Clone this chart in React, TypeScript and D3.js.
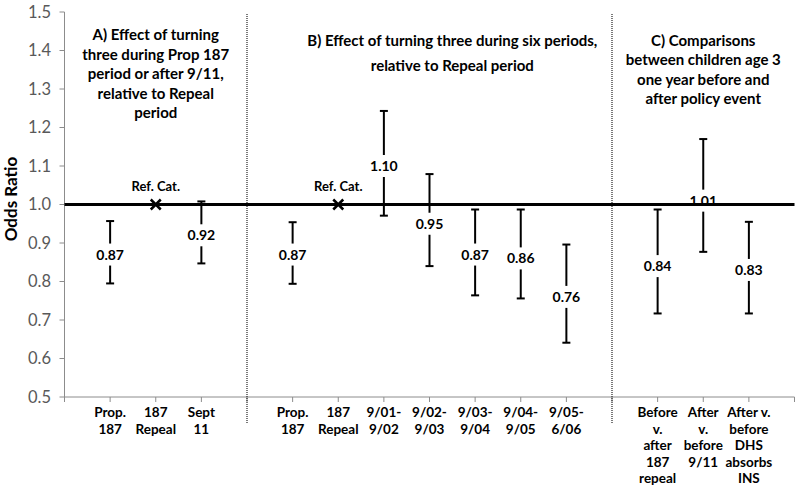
import React from "react";
import * as d3 from "d3";

const categories = [
  "Prop. 187", "187 Repeal", "Sept 11",
  "Prop. 187", "187 Repeal", "9/01-9/02", "9/02-9/03", "9/03-9/04", "9/04-9/05", "9/05-6/06",
  "Before v. after 187 repeal", "After v. before 9/11", "After v. before DHS absorbs INS",
];
const categoryLines = [
  ["Prop.", "187"], ["187", "Repeal"], ["Sept", "11"],
  ["Prop.", "187"], ["187", "Repeal"], ["9/01-", "9/02"], ["9/02-", "9/03"], ["9/03-", "9/04"], ["9/04-", "9/05"], ["9/05-", "6/06"],
  ["Before", "v.", "after", "187", "repeal"], ["After", "v.", "before", "9/11"], ["After v.", "before", "DHS", "absorbs", "INS"],
];
const slotIndex = [1, 2, 3, 5, 6, 7, 8, 9, 10, 11, 13, 14, 15];
const oddsRatio = [0.87, 1.0, 0.92, 0.87, 1.0, 1.10, 0.95, 0.87, 0.86, 0.76, 0.84, 1.01, 0.83];
const ciLower = [0.795, null, 0.847, 0.794, null, 0.971, 0.84, 0.764, 0.756, 0.641, 0.717, 0.877, 0.717];
const ciUpper = [0.957, null, 1.008, 0.954, null, 1.243, 1.079, 0.987, 0.987, 0.896, 0.987, 1.17, 0.955];
const isReference = [false, true, false, false, true, false, false, false, false, false, false, false, false];
const separatorSlots = [4, 12];
const slotCount = 16;
const yTicks = [0.5, 0.6, 0.7, 0.8, 0.9, 1.0, 1.1, 1.2, 1.3, 1.4, 1.5];
const referenceValue = 1.0;

const panelTitles = [
  { slot: 2, lines: ["A) Effect of turning", "three during Prop 187", "period or after 9/11,", "relative to Repeal", "period"], y0: 40, lh: 19.5 },
  { slot: 8.5, lines: ["B) Effect of turning three during six periods,", "relative to Repeal period"], y0: 46, lh: 24.5 },
  { slot: 14, lines: ["C) Comparisons", "between children age 3", "one year before and", "after policy event"], y0: 46, lh: 19.3 },
];

const FONT = "Lato, 'Open Sans', sans-serif";

export default function App() {
  const x = d3.scaleLinear().domain([0, slotCount]).range([64.5, 794.5]);
  const y = d3.scaleLinear().domain([0.5, 1.5]).range([397, 12]);
  const axisColor = "#8c8c8c";

  return (
    <svg width={800} height={493} style={{ position: "absolute", left: 0, top: 0, background: "#fff" }} fontFamily={FONT}>
      <rect x={0} y={0} width={800} height={493} fill="#fff" />
      {/* y axis */}
      <line x1={x(0)} x2={x(0)} y1={y(1.5)} y2={y(0.5)} stroke={axisColor} strokeWidth={1} />
      {yTicks.map((t) => (
        <g key={t}>
          <line x1={x(0) - 5} x2={x(0)} y1={y(t)} y2={y(t)} stroke={axisColor} />
          <text x={51} y={y(t)} dy="0.35em" textAnchor="end" fontSize={16.5} fill="#595959">
            {d3.format(".1f")(t)}
          </text>
        </g>
      ))}
      {/* x axis */}
      <line x1={x(0)} x2={x(slotCount)} y1={y(0.5)} y2={y(0.5)} stroke={axisColor} />
      {d3.range(0, slotCount + 1).map((s) => (
        <line key={s} x1={x(s)} x2={x(s)} y1={y(0.5)} y2={y(0.5) + 5} stroke={axisColor} />
      ))}
      <text transform={`translate(17, 199) rotate(-90)`} textAnchor="middle" fontSize={17} fontWeight="bold" fill="#000">
        Odds Ratio
      </text>
      {/* separators */}
      {separatorSlots.map((s) => (
        <line key={s} x1={x(s)} x2={x(s)} y1={14} y2={424} stroke="#222" strokeWidth={1.2} strokeDasharray="1,1" />
      ))}
      {/* category labels */}
      {categoryLines.map((lines, i) => (
        <text key={i} x={x(slotIndex[i])} y={417} textAnchor="middle" fontSize={13.5} fontWeight="bold" fill="#000">
          {lines.map((l, j) => (
            <tspan key={j} x={x(slotIndex[i])} dy={j === 0 ? 0 : 16.5}>{l}</tspan>
          ))}
        </text>
      ))}
      {/* panel titles */}
      {panelTitles.map((p, i) => (
        <text key={i} textAnchor="middle" fontSize={15} fontWeight="bold" fill="#000">
          {p.lines.map((l, j) => (
            <tspan key={j} x={x(p.slot)} y={p.y0 + j * p.lh}>{l}</tspan>
          ))}
        </text>
      ))}
      {/* error bars */}
      {oddsRatio.map((v, i) => {
        const lo = ciLower[i];
        const hi = ciUpper[i];
        if (lo == null || hi == null) return null;
        const cx = x(slotIndex[i]);
        return (
          <g key={i} stroke="#000" strokeWidth={2}>
            <line x1={cx} x2={cx} y1={y(hi)} y2={y(lo)} />
            <line x1={cx - 4} x2={cx + 4} y1={y(hi)} y2={y(hi)} />
            <line x1={cx - 4} x2={cx + 4} y1={y(lo)} y2={y(lo)} />
          </g>
        );
      })}
      {/* value labels */}
      {oddsRatio.map((v, i) => {
        if (isReference[i]) return null;
        const cx = x(slotIndex[i]);
        const cy = y(v);
        return (
          <g key={i}>
            <rect x={cx - 16} y={cy - 11} width={32} height={22} fill="#fff" />
            <text x={cx} y={cy} dy="0.36em" textAnchor="middle" fontSize={14} fontWeight="bold" fill="#000">
              {d3.format(".2f")(v)}
            </text>
          </g>
        );
      })}
      {/* reference line */}
      <line x1={x(0)} x2={x(slotCount)} y1={y(referenceValue)} y2={y(referenceValue)} stroke="#000" strokeWidth={3} />
      {/* reference markers */}
      {oddsRatio.map((v, i) => {
        if (!isReference[i]) return null;
        const cx = x(slotIndex[i]);
        const cy = y(v);
        const r = 5;
        return (
          <g key={i}>
            <path d={`M${cx - r},${cy - r}L${cx + r},${cy + r}M${cx - r},${cy + r}L${cx + r},${cy - r}`} stroke="#000" strokeWidth={2.5} />
            <text x={cx} y={cy - 18} dy="0.36em" textAnchor="middle" fontSize={13} fontWeight="bold" fill="#000">
              Ref. Cat.
            </text>
          </g>
        );
      })}
    </svg>
  );
}
